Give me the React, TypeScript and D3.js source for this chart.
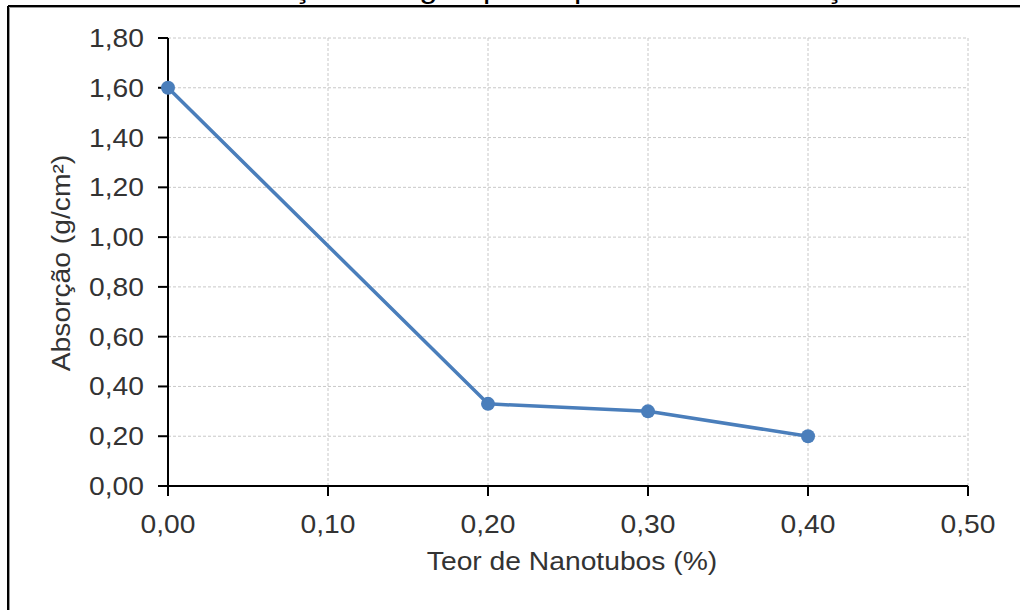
import React from "react";
import * as d3 from "d3";

const xValues = [0, 0.2, 0.3, 0.4];
const absorption = [1.6, 0.33, 0.3, 0.2];
const xTicks = [0, 0.1, 0.2, 0.3, 0.4, 0.5];
const yTicks = [0, 0.2, 0.4, 0.6, 0.8, 1.0, 1.2, 1.4, 1.6, 1.8];
const title = "Absorção de água por capilaridade em função do teor de nanotubos";
const xTitle = "Teor de Nanotubos (%)";
const yTitle = "Absorção (g/cm²)";

const W = 1020;
const H = 610;
const left = 168, right = 968, top = 38, bottom = 486;
const SX = 1.13;
const FONT = "'Liberation Sans', Arial, sans-serif";
const TXT = "#333";
const BLUE = "#4A7EBB";

const fmt = (v: number) => d3.format(".2f")(v).replace(".", ",");

export default function App() {
  const x = d3.scaleLinear().domain([0, 0.5]).range([left, right]);
  const y = d3.scaleLinear().domain([0, 1.8]).range([bottom, top]);
  const pts = xValues.map((v, i) => [v, absorption[i]] as [number, number]);
  const line = d3.line<[number, number]>().x(d => x(d[0])).y(d => y(d[1]));

  return (
    <svg width={W} height={H} style={{ position: "absolute", left: 0, top: 0, background: "#fff" }}>
      <text transform={`translate(208,-2) scale(${SX},1)`} fontFamily={FONT} fontSize={29} fill="#000">{title}</text>
      <rect x={0} y={6} width={W} height={H} fill="#fff" />
      <line x1={8} y1={6} x2={W} y2={6} stroke="#000" strokeWidth={2} />
      <line x1={8} y1={6} x2={8} y2={H} stroke="#000" strokeWidth={2} />
      <line x1={9.5} y1={7.5} x2={W} y2={7.5} stroke="#999" strokeWidth={1} />
      <line x1={9.5} y1={7.5} x2={9.5} y2={H} stroke="#999" strokeWidth={1} />

      {yTicks.filter(t => t > 0).map(t => (
        <line key={"gy" + t} x1={left} x2={right} y1={y(t)} y2={y(t)} stroke="#c8c8c8" strokeWidth={1} strokeDasharray="3,2" />
      ))}
      {xTicks.filter(t => t > 0).map(t => (
        <line key={"gx" + t} x1={x(t)} x2={x(t)} y1={top} y2={bottom} stroke="#c8c8c8" strokeWidth={1} strokeDasharray="3,2" />
      ))}

      <line x1={left} x2={left} y1={top} y2={bottom} stroke="#000" strokeWidth={2} />
      <line x1={left - 10} x2={right} y1={bottom} y2={bottom} stroke="#000" strokeWidth={2} />
      {yTicks.map(t => (
        <line key={"ty" + t} x1={left - 10} x2={left} y1={y(t)} y2={y(t)} stroke="#000" strokeWidth={2} />
      ))}
      {xTicks.map(t => (
        <line key={"tx" + t} x1={x(t)} x2={x(t)} y1={bottom} y2={bottom + 10} stroke="#000" strokeWidth={2} />
      ))}

      {yTicks.map(t => (
        <text key={"ly" + t} transform={`translate(${left - 24},${y(t) + 9}) scale(${SX},1)`} textAnchor="end" fontFamily={FONT} fontSize={25} fill={TXT}>{fmt(t)}</text>
      ))}
      {xTicks.map(t => (
        <text key={"lx" + t} transform={`translate(${x(t)},533) scale(${SX},1)`} textAnchor="middle" fontFamily={FONT} fontSize={25} fill={TXT}>{fmt(t)}</text>
      ))}

      <text transform={`translate(${(left + right) / 2 + 4},570) scale(${SX},1)`} textAnchor="middle" fontFamily={FONT} fontSize={25} fill={TXT}>{xTitle}</text>
      <text transform={`translate(70,${(top + bottom) / 2 + 1}) rotate(-90) scale(${SX},1)`} textAnchor="middle" fontFamily={FONT} fontSize={25} fill={TXT}>{yTitle}</text>

      <path d={line(pts) || ""} fill="none" stroke={BLUE} strokeWidth={3.5} strokeLinejoin="round" />
      {pts.map((p, i) => (
        <circle key={"m" + i} cx={x(p[0])} cy={y(p[1])} r={7} fill={BLUE} />
      ))}
    </svg>
  );
}
